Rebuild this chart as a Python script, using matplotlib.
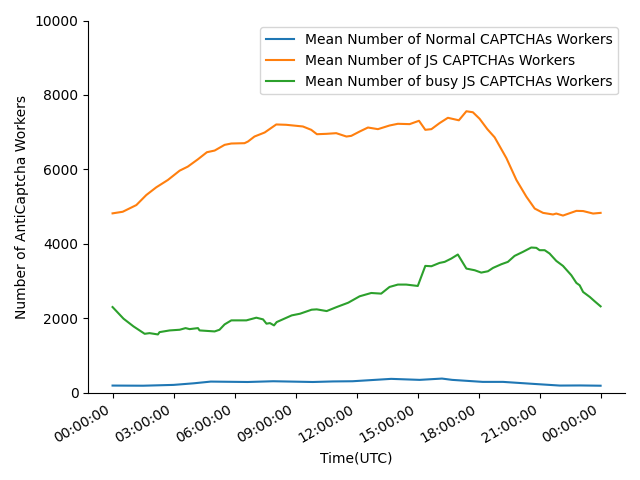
import numpy as np
import pandas as pd
import matplotlib
matplotlib.use("Agg")
import matplotlib.pyplot as plt
import matplotlib.dates as mdates

# readings from the chart (hours since midnight, number of workers)
normal_hours = [0, 1.5, 3.0, 4.0, 4.83, 6.64, 7.9, 9.85, 10.84, 11.8, 13.7, 15.1, 16.2, 16.7, 18.2, 19.2, 20.7, 22.0, 23.0, 24.0]
normal_workers = [189, 185, 207, 250, 296, 285, 305, 285, 300, 305, 369, 342, 377, 342, 288, 288, 234, 189, 192, 185]

js_hours = [0, 0.5, 1.17, 1.66, 2.15, 2.72, 3.30, 3.70, 4.20, 4.64, 5.02, 5.51, 5.84, 6.49, 6.66, 6.98,
            7.48, 8.05, 8.54, 9.36, 9.77, 10.05, 10.51, 11.0, 11.5, 11.74, 12.15, 12.56, 13.05, 13.62,
            14.03, 14.61, 15.07, 15.38, 15.68, 16.08, 16.49, 17.03, 17.40, 17.72, 18.05, 18.43, 18.79,
            19.37, 19.86, 20.35, 20.76, 21.17, 21.66, 21.82, 22.15, 22.81, 23.14, 23.63, 24.0]
js_workers = [4817, 4860, 5040, 5310, 5517, 5714, 5965, 6073, 6271, 6460, 6505, 6658, 6694, 6703, 6748, 6882,
              6990, 7206, 7197, 7152, 7062, 6944, 6954, 6972, 6882, 6900, 7016, 7124, 7080, 7178,
              7224, 7215, 7305, 7062, 7080, 7242, 7385, 7318, 7561, 7534, 7359, 7080, 6860,
              6299, 5714, 5265, 4946, 4830, 4787, 4812, 4758, 4884, 4879, 4812, 4830]

busy_hours = [0, 0.54, 1.03, 1.58, 1.82, 2.23, 2.31, 2.81, 3.30, 3.59, 3.79, 4.20, 4.28, 5.02, 5.26, 5.51,
              5.84, 6.58, 7.07, 7.40, 7.57, 7.74, 7.94, 8.07, 8.81, 9.22, 9.79, 10.04, 10.53, 11.02,
              11.59, 12.15, 12.72, 13.21, 13.62, 14.03, 14.44, 15.01, 15.38, 15.68, 16.08, 16.33,
              16.66, 16.98, 17.40, 17.81, 18.13, 18.46, 18.71, 19.12, 19.44, 19.77, 20.18, 20.59,
              20.84, 21.00, 21.25, 21.49, 21.82, 22.15, 22.56, 22.81, 22.97, 23.14, 23.47, 23.71, 24.0]
busy_workers = [2299, 1986, 1779, 1580, 1598, 1563, 1625, 1671, 1689, 1733, 1706, 1733, 1671, 1644, 1689, 1833,
                1941, 1941, 2013, 1968, 1852, 1868, 1806, 1895, 2075, 2120, 2228, 2237, 2191, 2299,
                2416, 2588, 2677, 2660, 2839, 2903, 2903, 2866, 3405, 3396, 3485, 3513,
                3603, 3711, 3333, 3288, 3225, 3261, 3351, 3450, 3513, 3674, 3782, 3899,
                3890, 3827, 3827, 3738, 3540, 3405, 3154, 2947, 2884, 2704, 2570, 2453, 2318]

day = pd.Timestamp("2019-01-01")


def to_time(hours):
    return day + pd.to_timedelta(hours, unit="h")


fig, ax = plt.subplots(figsize=(6.4, 4.8), dpi=100)
ax.plot(to_time(normal_hours), normal_workers, label="Mean Number of Normal CAPTCHAs Workers")
ax.plot(to_time(js_hours), js_workers, label="Mean Number of JS CAPTCHAs Workers")
ax.plot(to_time(busy_hours), busy_workers, label="Mean Number of busy JS CAPTCHAs Workers")

ax.set_ylim(0, 10000)
ax.set_xlabel("Time(UTC)")
ax.set_ylabel("Number of AntiCaptcha Workers")
ax.xaxis.set_major_locator(mdates.HourLocator(byhour=range(0, 24, 3)))
ax.xaxis.set_major_formatter(mdates.DateFormatter("%H:%M:%S"))
ax.spines["top"].set_visible(False)
ax.spines["right"].set_visible(False)
ax.legend(loc="upper right")
fig.autofmt_xdate()
fig.tight_layout()
fig.savefig("out.png")
